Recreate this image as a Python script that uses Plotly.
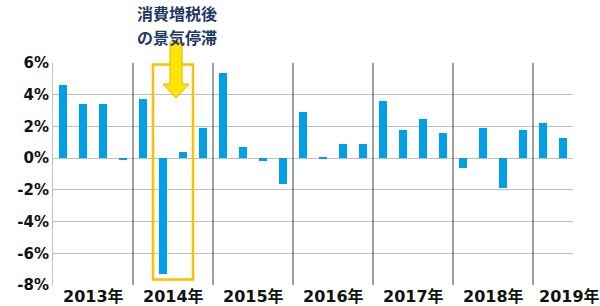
import plotly.graph_objects as go

years = ["2013年", "2014年", "2015年", "2016年", "2017年", "2018年", "2019年"]
quarters = ["2013Q1","2013Q2","2013Q3","2013Q4",
            "2014Q1","2014Q2","2014Q3","2014Q4",
            "2015Q1","2015Q2","2015Q3","2015Q4",
            "2016Q1","2016Q2","2016Q3","2016Q4",
            "2017Q1","2017Q2","2017Q3","2017Q4",
            "2018Q1","2018Q2","2018Q3","2018Q4",
            "2019Q1","2019Q2"]
growth = [4.6, 3.4, 3.4, -0.1,
          3.7, -7.3, 0.4, 1.9,
          5.4, 0.7, -0.2, -1.6,
          2.9, 0.1, 0.9, 0.9,
          3.6, 1.8, 2.5, 1.6,
          -0.6, 1.9, -1.9, 1.8,
          2.2, 1.3]
tick_vals = [6, 4, 2, 0, -2, -4, -6, -8]
tick_text = ["6%", "4%", "2%", "0%", "-2%", "-4%", "-6%", "-8%"]
note_lines = ["消費増税後", "の景気停滞"]

W, H = 600, 306
ML, MR, MT, MB = 53, 27, 63, 21
PW = W - ML - MR
PH = H - MT - MB

def px(x):
    return (x - ML) / PW

def py(y):
    return (H - MB - y) / PH

xs = list(range(len(growth)))

fig = go.Figure()
fig.add_trace(go.Bar(x=xs, y=growth, width=0.42, marker_color="#00A0E9",
                     marker_line_width=0, hovertext=quarters))

shapes = []
# year separators
for k in range(1, len(years)):
    xv = 4 * k - 0.5
    shapes.append(dict(type="line", xref="x", yref="y", x0=xv, x1=xv, y0=-8, y1=6,
                       line=dict(color="#404040", width=1)))
# highlight rectangle around 2014 Q2-Q3
shapes.append(dict(type="rect", xref="x", yref="y", x0=4.5, x1=6.5, y0=-7.65, y1=5.9,
                   line=dict(color="#FFC000", width=2.5), fillcolor="rgba(0,0,0,0)"))
# down arrow
cx, top, neck, tip, sw, hw = 176, 42, 84, 98, 6, 13
path = "M {a},{b} L {c},{b} L {c},{d} L {e},{d} L {f},{g} L {h},{d} L {i},{d} L {i},{b} Z".format(
    a=px(cx - sw), b=py(top), c=px(cx + sw), d=py(neck), e=px(cx + hw),
    f=px(cx), g=py(tip), h=px(cx - hw), i=px(cx - sw))
shapes.append(dict(type="path", xref="paper", yref="paper", path=path,
                   fillcolor="#FFE600", line=dict(color="#E8B000", width=1)))

annotations = []
for k, yl in enumerate(years):
    xc = 4 * k + 1.5 if k < len(years) - 1 else 25.3
    annotations.append(dict(x=xc, y=py(296), xref="x", yref="paper", text=yl,
                            showarrow=False, xanchor="center", yanchor="middle",
                            font=dict(size=16, color="#111111",
                                      family="DejaVu Sans, Noto Sans CJK JP")))
for k, line in enumerate(note_lines):
    annotations.append(dict(x=px(177), y=py(12.5 + 24 * k), xref="paper", yref="paper",
                            text=line, showarrow=False,
                            xanchor="center", yanchor="middle",
                            font=dict(size=16, color="#1F3864",
                                      family="Noto Sans CJK JP")))

fig.update_layout(
    width=W, height=H,
    margin=dict(l=ML, r=MR, t=MT, b=MB, pad=0),
    paper_bgcolor="white", plot_bgcolor="white",
    showlegend=False,
    bargap=0,
    shapes=shapes,
    annotations=annotations,
    xaxis=dict(range=[-0.5, 25.5], showgrid=False, showticklabels=False,
               zeroline=False, showline=False, ticks=""),
    yaxis=dict(range=[-8, 6], tickvals=tick_vals, ticktext=tick_text,
               showgrid=True, gridcolor="#C0C0C0", gridwidth=1,
               zeroline=True, zerolinecolor="#C0C0C0", zerolinewidth=1,
               showline=True, linecolor="#C0C0C0", linewidth=1,
               ticks="", ticklen=0, tickfont=dict(size=15, color="#111111",
                                                   family="DejaVu Sans"),
               automargin=False),
    font=dict(family="DejaVu Sans"),
)
fig.update_yaxes(tickfont_weight="bold")
fig.update_annotations(font_weight="bold")

fig.write_html("out.html")
